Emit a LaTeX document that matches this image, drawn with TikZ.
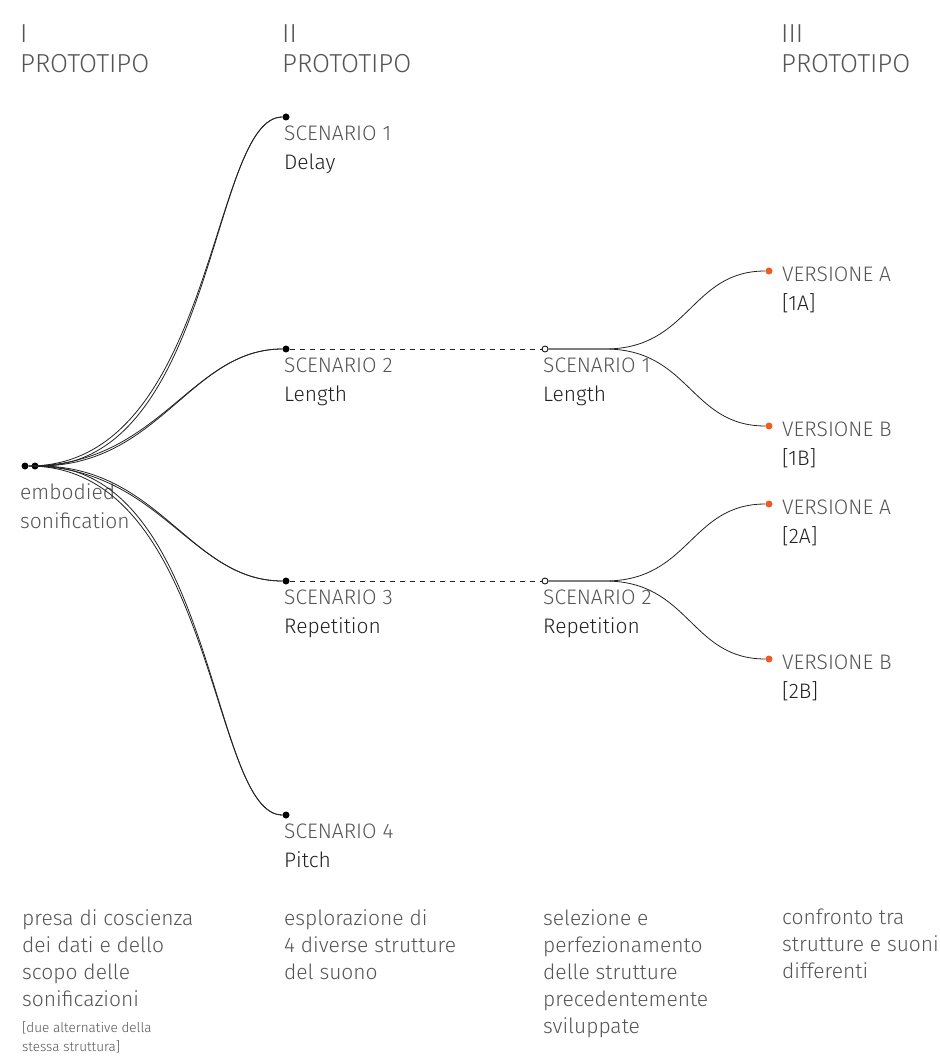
\documentclass[tikz,border=0pt]{standalone}
\usepackage{fontspec}
\setmainfont{Fira Sans Light}
\definecolor{ink}{HTML}{222222}
\definecolor{txtgray}{HTML}{555555}
\definecolor{vers}{HTML}{F15A22}

\tikzstyle{dot} = [circle,fill=black,inner sep=0pt,minimum size=7pt]
\tikzstyle{opendot} = [circle,draw=black,fill=white,line width=0.8pt,inner sep=0pt,minimum size=6pt]
\tikzstyle{vdot} = [circle,fill=vers,inner sep=0pt,minimum size=7pt]
\tikzstyle{lbl} = [anchor=north west,inner sep=0pt,align=left,text=txtgray,font=\fontsize{21}{29}\selectfont]
\tikzstyle{head} = [lbl,font=\fontsize{26}{30}\selectfont]
\tikzstyle{note} = [lbl,font=\fontsize{21}{27}\selectfont]
\tikzstyle{small} = [lbl,font=\fontsize{13.5}{19}\selectfont]
\tikzstyle{branch} = [line width=0.8pt,draw=ink]

\begin{document}
\begin{tikzpicture}[x=1pt,y=-1pt]
	\useasboundingbox (0,0) rectangle (939,1064);

	% prototipi
	\node[head] (p1) at (20,24) {I\\PROTOTIPO};
	\node[head] (p2) at (282,24) {II\\PROTOTIPO};
	\node[head] (p3) at (781,24) {III\\PROTOTIPO};

	% punti
	\node[dot] (r1) at (25,466) {};
	\node[dot] (r2) at (35,466) {};
	\node[dot] (s1) at (286,117) {};
	\node[dot] (s2) at (286,349) {};
	\node[dot] (s3) at (286,581) {};
	\node[dot] (s4) at (286,815) {};
	\node[opendot] (t1) at (545,349) {};
	\node[opendot] (t2) at (545,581) {};
	\node[vdot] (v1) at (769,271) {};
	\node[vdot] (v2) at (769,426) {};
	\node[vdot] (v3) at (769,504) {};
	\node[vdot] (v4) at (769,659) {};

	% etichette
	\node[lbl] (lr) at (20,483) {embodied\\sonification};
	\node[lbl] (ls1) at (284,126) {SCENARIO 1\\\textcolor{ink}{Delay}};
	\node[lbl] (ls2) at (284,358) {SCENARIO 2\\\textcolor{ink}{Length}};
	\node[lbl] (ls3) at (284,590) {SCENARIO 3\\\textcolor{ink}{Repetition}};
	\node[lbl] (ls4) at (284,824) {SCENARIO 4\\\textcolor{ink}{Pitch}};
	\node[lbl] (lt1) at (543,358) {SCENARIO 1\\\textcolor{ink}{Length}};
	\node[lbl] (lt2) at (543,590) {SCENARIO 2\\\textcolor{ink}{Repetition}};
	\node[lbl] (lv1) at (782,266.5) {VERSIONE A\\\textcolor{ink}{[1A]}};
	\node[lbl] (lv2) at (782,421.5) {VERSIONE B\\\textcolor{ink}{[1B]}};
	\node[lbl] (lv3) at (782,499.5) {VERSIONE A\\\textcolor{ink}{[2A]}};
	\node[lbl] (lv4) at (782,654.5) {VERSIONE B\\\textcolor{ink}{[2B]}};

	% rami
	\draw[branch] (r1) .. controls (215,466) and (210,117) .. (s1);
	\draw[branch] (r2) .. controls (215,466) and (210,117) .. (s1);
	\draw[branch] (r1) .. controls (160,466) and (190,349) .. (s2);
	\draw[branch] (r2) .. controls (160,466) and (190,349) .. (s2);
	\draw[branch] (r1) .. controls (160,466) and (190,581) .. (s3);
	\draw[branch] (r2) .. controls (160,466) and (190,581) .. (s3);
	\draw[branch] (r1) .. controls (215,466) and (210,815) .. (s4);
	\draw[branch] (r2) .. controls (215,466) and (210,815) .. (s4);

	\draw[branch,dash pattern=on 5pt off 5pt] (s2) -- (t1);
	\draw[branch,dash pattern=on 5pt off 5pt] (s3) -- (t2);

	\draw[branch] (t1) -- (605,349) .. controls (690,349) and (690,271) .. (v1);
	\draw[branch] (t1) -- (605,349) .. controls (690,349) and (690,426) .. (v2);
	\draw[branch] (t2) -- (605,581) .. controls (690,581) and (690,504) .. (v3);
	\draw[branch] (t2) -- (605,581) .. controls (690,581) and (690,659) .. (v4);

	% descrizioni
	\node[note] (n1) at (22,909) {presa di coscienza\\dei dati e dello\\scopo delle\\sonificazioni};
	\node[small] (n1b) at (22,1021) {[due alternative della\\stessa struttura]};
	\node[note] (n2) at (284,909) {esplorazione di\\4 diverse strutture\\del suono};
	\node[note] (n3) at (543,909) {selezione e\\perfezionamento\\delle strutture\\precedentemente\\sviluppate};
	\node[note] (n4) at (782,909) {confronto tra\\strutture e suoni\\differenti};
\end{tikzpicture}
\end{document}
